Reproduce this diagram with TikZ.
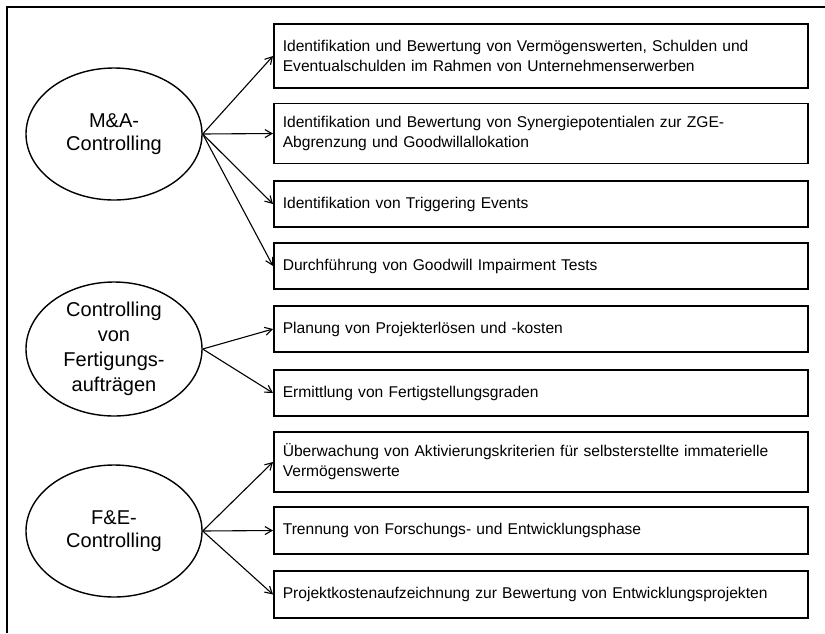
\documentclass[tikz,border=0pt]{standalone}
\usepackage{fontspec}
\setmainfont{Liberation Sans}
\usetikzlibrary{shapes.geometric,arrows.meta}
\begin{document}
\begin{tikzpicture}[x=1pt,y=-1pt,
  area/.style={ellipse,draw,line width=1.4pt,minimum width=176pt,minimum height=132pt,
    inner sep=0pt,align=center,font=\fontsize{20}{23}\selectfont},
  task/.style={rectangle,draw,line width=1.6pt,anchor=west,minimum width=534pt,
    inner xsep=9pt,inner ysep=0pt,text width=516pt,align=left,
    font=\fontsize{15.6}{20}\selectfont},
  link/.style={line width=1.1pt,-{Straight Barb[length=7pt,width=8pt,line width=1.1pt]}}]
\useasboundingbox (0,0) rectangle (825,633);
\fill[white] (0,0) rectangle (825,633);
% outer frame (runs off the right and bottom edges)
\draw[line width=1.8pt] (7,633) -- (7,7) -- (825,7);

% controlling areas
\node[area] (ma) at (114,134) {M\&A-\\Controlling};
\node[area,minimum height=134pt,font=\fontsize{20}{25}\selectfont] (fa) at (114,349)
  {Controlling\\von\\Fertigungs-\\aufträgen};
\node[area] (fe) at (114,531) {F\&E-\\Controlling};

% tasks
\node[task,minimum height=64pt] (t1) at (273,56)
  {Identifikation und Bewertung von Vermögenswerten, Schulden und\\Eventualschulden im Rahmen von Unternehmenserwerben};
\node[task,minimum height=60pt] (t2) at (273,133.5)
  {Identifikation und Bewertung von Synergiepotentialen zur ZGE-\\Abgrenzung und Goodwillallokation};
\node[task,minimum height=46pt] (t3) at (273,204) {Identifikation von Triggering Events};
\node[task,minimum height=46pt] (t4) at (273,266) {Durchführung von Goodwill Impairment Tests};
\node[task,minimum height=46pt] (t5) at (273,329) {Planung von Projekterlösen und -kosten};
\node[task,minimum height=46pt] (t6) at (273,393) {Ermittlung von Fertigstellungsgraden};
\node[task,minimum height=60pt] (t7) at (273,462)
  {Überwachung von Aktivierungskriterien für selbsterstellte immaterielle\\Vermögenswerte};
\node[task,minimum height=47pt] (t8) at (273,530.5) {Trennung von Forschungs- und Entwicklungsphase};
\node[task,minimum height=47pt] (t9) at (273,594.5) {Projektkostenaufzeichnung zur Bewertung von Entwicklungsprojekten};

% connectors
\foreach \t in {t1,t2,t3,t4} \draw[link] (ma.east) -- (\t.west);
\foreach \t in {t5,t6} \draw[link] (fa.east) -- (\t.west);
\foreach \t in {t7,t8,t9} \draw[link] (fe.east) -- (\t.west);
\end{tikzpicture}
\end{document}
